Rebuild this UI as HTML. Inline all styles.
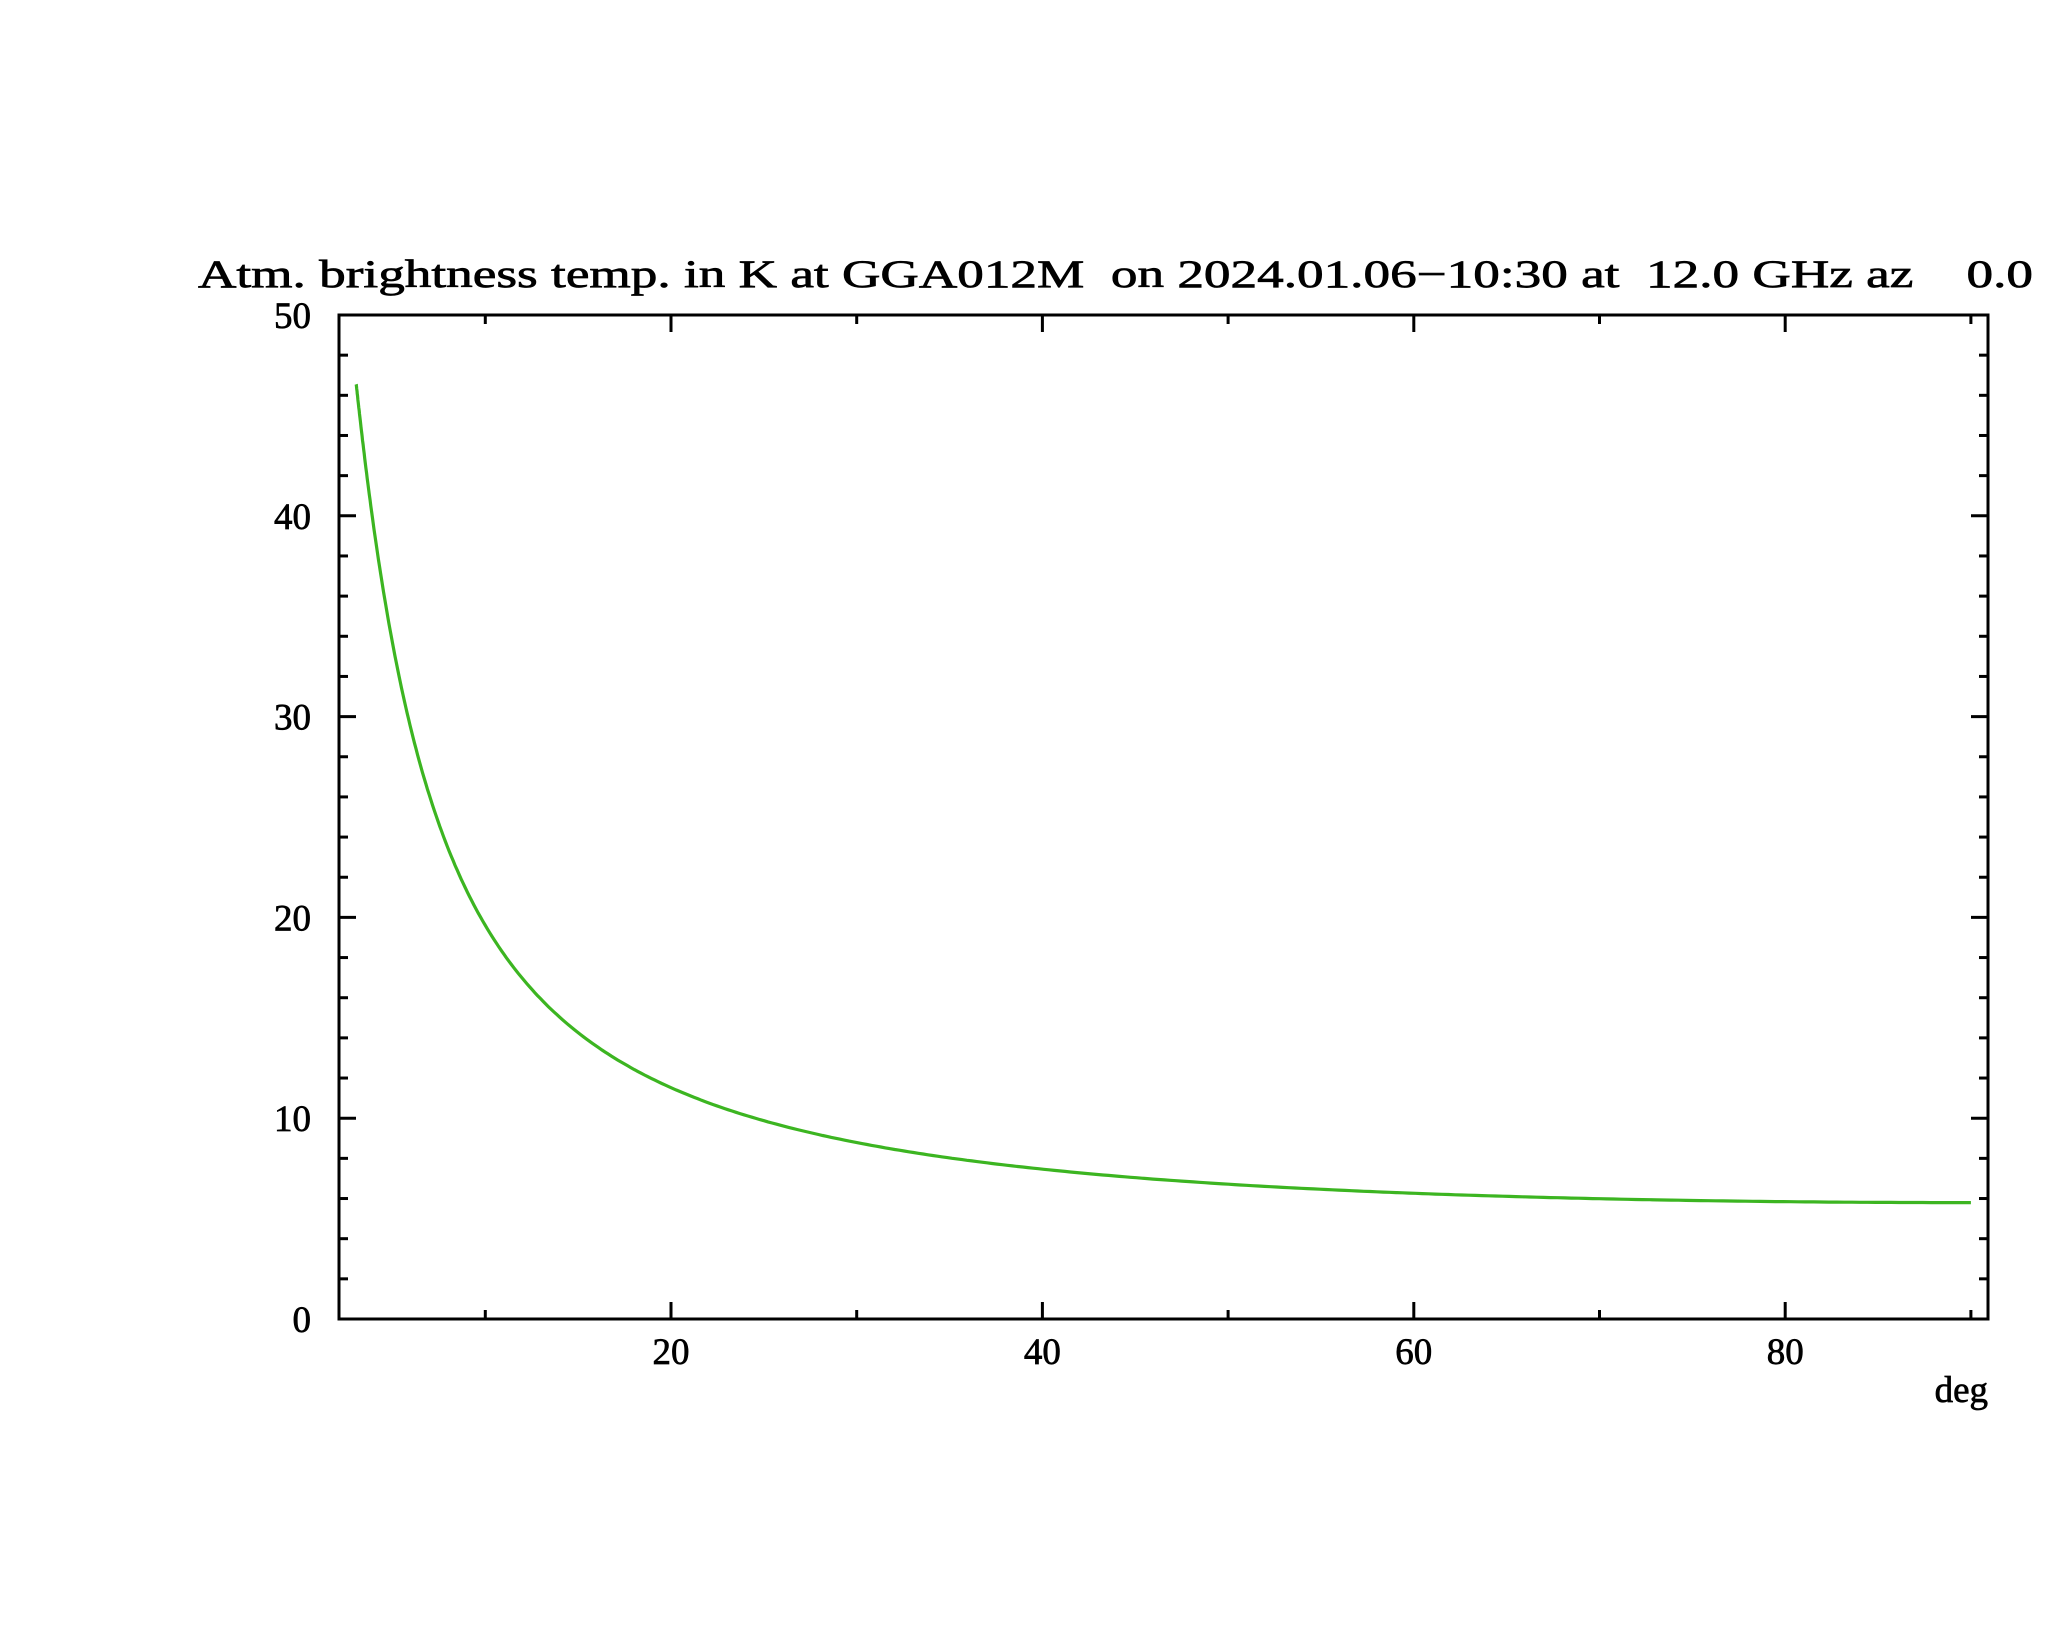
<!DOCTYPE html>
<html><head><meta charset="utf-8"><style>
html,body{margin:0;padding:0;background:#fff;}
svg{display:block;}
text{font-family:"Liberation Serif",serif;fill:#000;stroke:#000;stroke-width:0.7;}
</style></head><body>
<svg id="s" width="2048" height="1635" viewBox="0 0 2048 1635" xmlns="http://www.w3.org/2000/svg">
<rect width="2048" height="1635" fill="#fff"/>
<text x="198" y="287" font-size="39" textLength="1835" lengthAdjust="spacingAndGlyphs" xml:space="preserve">Atm. brightness temp. in K at GGA012M  on 2024.01.06−10:30 at  12.0 GHz az    0.0</text>
<g id="ticks" stroke="#000" stroke-width="3" fill="none"></g>
<rect x="339" y="315" width="1649" height="1004" fill="none" stroke="#000" stroke-width="3"/>
<g id="labels" font-size="37"></g>
<text x="1988" y="1402" font-size="37" text-anchor="end">deg</text>
<path id="curve" fill="none" stroke="#3cb521" stroke-width="3.2"/>
</svg>
<script>
var X0=299.6,SX=18.57,Y0=1319,SY=20.08;
function px(e){return X0+SX*e;} function py(t){return Y0-SY*t;}
var g=document.getElementById('ticks'),L=document.getElementById('labels'),ns='http://www.w3.org/2000/svg';
function line(x1,y1,x2,y2){var l=document.createElementNS(ns,'line');l.setAttribute('x1',x1);l.setAttribute('y1',y1);l.setAttribute('x2',x2);l.setAttribute('y2',y2);g.appendChild(l);}
function txt(x,y,s,a){var t=document.createElementNS(ns,'text');t.setAttribute('x',x);t.setAttribute('y',y);t.setAttribute('text-anchor',a);t.textContent=s;L.appendChild(t);}
for(var e=10;e<=90;e+=10){var x=px(e),len=(e%20==0)?17:9;line(x,1319,x,1319-len);line(x,315,x,315+len);if(e%20==0)txt(x,1364,String(e),'middle');}
for(var t=0;t<=50;t+=2){var y=py(t),len=(t%10==0)?17:9;line(339,y,339+len,y);line(1988,y,1988-len,y);if(t%10==0)txt(311,y+13,String(t),'end');}
var d='';for(var i=0;i<=400;i++){var el=3.05+(90-3.05)*Math.pow(i/400,2);var s=Math.sin(el*Math.PI/180);var A=1/Math.sqrt(s*s+0.0019);var T=2.79+3.01*A;d+=(i?'L':'M')+px(el).toFixed(1)+' '+py(T).toFixed(1);}
document.getElementById('curve').setAttribute('d',d);
</script>
</body></html>
